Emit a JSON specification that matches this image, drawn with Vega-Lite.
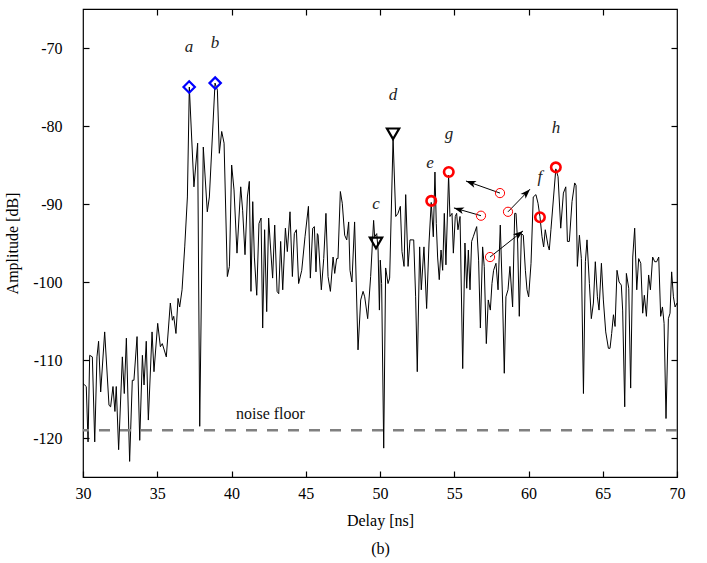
{
  "$schema": "https://vega.github.io/schema/vega-lite/v6.json",
  "width": 594,
  "height": 468,
  "autosize": {"type": "none"},
  "padding": {"left": 83, "top": 9, "right": 30, "bottom": 86},
  "config": {
    "view": {"stroke": "black", "strokeWidth": 1.2},
    "axis": {"labelFlush": false, "labelFont": "'Liberation Serif', 'Times New Roman', Times, serif", "labelFontSize": 16, "labelColor": "black", "titleFont": "'Liberation Serif', 'Times New Roman', Times, serif", "titleFontSize": 16, "titleFontWeight": "normal", "titleColor": "black"}
  },
  "datasets": {
    "trace": [
      {"delay":30.00,"amp":-113.0},{"delay":30.11,"amp":-113.2},{"delay":30.22,"amp":-113.4},{"delay":30.34,"amp":-120.5},{"delay":30.45,"amp":-109.4},{"delay":30.63,"amp":-109.6},{"delay":30.79,"amp":-120.5},{"delay":30.94,"amp":-109.6},{"delay":31.05,"amp":-107.6},{"delay":31.19,"amp":-114.1},{"delay":31.46,"amp":-106.4},{"delay":31.75,"amp":-115.8},{"delay":31.86,"amp":-116.0},{"delay":32.02,"amp":-113.4},{"delay":32.15,"amp":-116.6},{"delay":32.24,"amp":-113.4},{"delay":32.40,"amp":-121.5},{"delay":32.65,"amp":-109.6},{"delay":32.78,"amp":-114.3},{"delay":32.92,"amp":-107.2},{"delay":33.14,"amp":-123.0},{"delay":33.32,"amp":-112.6},{"delay":33.43,"amp":-112.6},{"delay":33.64,"amp":-107.0},{"delay":33.82,"amp":-120.3},{"delay":34.00,"amp":-109.4},{"delay":34.11,"amp":-113.2},{"delay":34.26,"amp":-107.6},{"delay":34.40,"amp":-117.7},{"delay":34.65,"amp":-106.4},{"delay":34.78,"amp":-111.5},{"delay":35.03,"amp":-105.3},{"delay":35.21,"amp":-108.3},{"delay":35.34,"amp":-107.9},{"delay":35.61,"amp":-109.6},{"delay":35.88,"amp":-102.7},{"delay":36.02,"amp":-104.9},{"delay":36.11,"amp":-104.4},{"delay":36.26,"amp":-106.6},{"delay":36.40,"amp":-102.1},{"delay":36.51,"amp":-103.2},{"delay":36.67,"amp":-101.0},{"delay":36.85,"amp":-95.5},{"delay":37.03,"amp":-89.1},{"delay":37.16,"amp":-75.0},{"delay":37.47,"amp":-87.8},{"delay":37.72,"amp":-82.2},{"delay":37.86,"amp":-118.5},{"delay":38.10,"amp":-82.7},{"delay":38.37,"amp":-91.0},{"delay":38.51,"amp":-89.1},{"delay":38.89,"amp":-74.5},{"delay":39.05,"amp":-75.4},{"delay":39.18,"amp":-83.5},{"delay":39.34,"amp":-80.7},{"delay":39.50,"amp":-82.2},{"delay":39.72,"amp":-99.3},{"delay":39.86,"amp":-98.0},{"delay":40.01,"amp":-85.0},{"delay":40.17,"amp":-88.2},{"delay":40.37,"amp":-96.3},{"delay":40.62,"amp":-87.8},{"delay":40.75,"amp":-90.8},{"delay":40.91,"amp":-96.5},{"delay":41.07,"amp":-89.1},{"delay":41.20,"amp":-87.1},{"delay":41.31,"amp":-101.2},{"delay":41.43,"amp":-89.7},{"delay":41.54,"amp":-96.8},{"delay":41.70,"amp":-101.7},{"delay":41.85,"amp":-92.5},{"delay":41.99,"amp":-91.8},{"delay":42.10,"amp":-105.9},{"delay":42.23,"amp":-93.3},{"delay":42.37,"amp":-103.8},{"delay":42.50,"amp":-91.8},{"delay":42.64,"amp":-95.9},{"delay":42.77,"amp":-99.5},{"delay":42.91,"amp":-92.7},{"delay":43.07,"amp":-101.2},{"delay":43.18,"amp":-101.5},{"delay":43.31,"amp":-94.8},{"delay":43.45,"amp":-101.0},{"delay":43.63,"amp":-93.1},{"delay":43.76,"amp":-96.1},{"delay":43.94,"amp":-91.0},{"delay":44.10,"amp":-99.3},{"delay":44.23,"amp":-93.8},{"delay":44.37,"amp":-93.3},{"delay":44.52,"amp":-100.2},{"delay":44.73,"amp":-98.5},{"delay":44.95,"amp":-94.2},{"delay":45.18,"amp":-90.3},{"delay":45.31,"amp":-99.5},{"delay":45.47,"amp":-93.1},{"delay":45.58,"amp":-92.9},{"delay":45.69,"amp":-98.7},{"delay":45.78,"amp":-93.8},{"delay":45.83,"amp":-94.0},{"delay":46.05,"amp":-101.0},{"delay":46.21,"amp":-97.0},{"delay":46.36,"amp":-91.2},{"delay":46.50,"amp":-99.3},{"delay":46.66,"amp":-101.2},{"delay":46.84,"amp":-96.8},{"delay":46.95,"amp":-98.9},{"delay":47.08,"amp":-97.0},{"delay":47.17,"amp":-97.0},{"delay":47.33,"amp":-88.4},{"delay":47.46,"amp":-89.9},{"delay":47.62,"amp":-94.0},{"delay":47.76,"amp":-94.6},{"delay":47.89,"amp":-92.3},{"delay":47.98,"amp":-98.5},{"delay":48.11,"amp":-100.0},{"delay":48.29,"amp":-92.3},{"delay":48.52,"amp":-108.7},{"delay":48.70,"amp":-102.3},{"delay":48.86,"amp":-101.2},{"delay":48.97,"amp":-101.9},{"delay":49.17,"amp":-104.7},{"delay":49.37,"amp":-99.3},{"delay":49.57,"amp":-92.1},{"delay":49.64,"amp":-94.2},{"delay":49.78,"amp":-93.8},{"delay":49.87,"amp":-95.9},{"delay":49.96,"amp":-103.6},{"delay":50.02,"amp":-97.2},{"delay":50.11,"amp":-100.2},{"delay":50.25,"amp":-121.3},{"delay":50.38,"amp":-98.2},{"delay":50.54,"amp":-100.2},{"delay":50.65,"amp":-99.5},{"delay":50.88,"amp":-81.6},{"delay":51.06,"amp":-91.6},{"delay":51.21,"amp":-91.2},{"delay":51.37,"amp":-90.3},{"delay":51.48,"amp":-96.1},{"delay":51.62,"amp":-98.0},{"delay":51.73,"amp":-88.8},{"delay":51.89,"amp":-98.0},{"delay":52.02,"amp":-94.6},{"delay":52.16,"amp":-94.6},{"delay":52.27,"amp":-94.6},{"delay":52.40,"amp":-101.9},{"delay":52.51,"amp":-111.5},{"delay":52.67,"amp":-95.5},{"delay":52.78,"amp":-101.0},{"delay":52.96,"amp":-95.5},{"delay":53.14,"amp":-103.4},{"delay":53.30,"amp":-95.0},{"delay":53.45,"amp":-89.8},{"delay":53.59,"amp":-94.2},{"delay":53.70,"amp":-85.9},{"delay":53.79,"amp":-92.5},{"delay":53.88,"amp":-96.8},{"delay":53.99,"amp":-99.7},{"delay":54.11,"amp":-95.9},{"delay":54.22,"amp":-98.5},{"delay":54.33,"amp":-91.2},{"delay":54.44,"amp":-97.8},{"delay":54.62,"amp":-86.3},{"delay":54.71,"amp":-91.6},{"delay":54.85,"amp":-91.2},{"delay":54.94,"amp":-96.3},{"delay":55.07,"amp":-91.6},{"delay":55.16,"amp":-91.2},{"delay":55.25,"amp":-93.3},{"delay":55.39,"amp":-91.6},{"delay":55.57,"amp":-111.1},{"delay":55.72,"amp":-95.0},{"delay":55.84,"amp":-100.8},{"delay":55.95,"amp":-95.9},{"delay":56.06,"amp":-101.0},{"delay":56.17,"amp":-94.8},{"delay":56.28,"amp":-94.2},{"delay":56.51,"amp":-92.9},{"delay":56.64,"amp":-97.2},{"delay":56.76,"amp":-105.9},{"delay":56.91,"amp":-95.5},{"delay":57.02,"amp":-98.0},{"delay":57.16,"amp":-107.9},{"delay":57.29,"amp":-102.3},{"delay":57.43,"amp":-103.6},{"delay":57.54,"amp":-100.2},{"delay":57.65,"amp":-98.5},{"delay":57.81,"amp":-97.6},{"delay":57.95,"amp":-101.0},{"delay":58.10,"amp":-92.7},{"delay":58.26,"amp":-102.7},{"delay":58.37,"amp":-111.7},{"delay":58.48,"amp":-101.9},{"delay":58.62,"amp":-101.0},{"delay":58.75,"amp":-98.0},{"delay":58.93,"amp":-103.2},{"delay":59.07,"amp":-91.2},{"delay":59.16,"amp":-91.2},{"delay":59.27,"amp":-95.0},{"delay":59.38,"amp":-104.4},{"delay":59.52,"amp":-93.8},{"delay":59.65,"amp":-94.0},{"delay":59.79,"amp":-98.5},{"delay":59.90,"amp":-101.0},{"delay":60.01,"amp":-101.9},{"delay":60.17,"amp":-97.6},{"delay":60.32,"amp":-89.1},{"delay":60.50,"amp":-88.8},{"delay":60.64,"amp":-89.9},{"delay":60.77,"amp":-91.6},{"delay":60.91,"amp":-94.2},{"delay":61.02,"amp":-95.5},{"delay":61.13,"amp":-93.3},{"delay":61.31,"amp":-95.3},{"delay":61.40,"amp":-95.9},{"delay":61.51,"amp":-93.3},{"delay":61.84,"amp":-85.5},{"delay":61.99,"amp":-86.5},{"delay":62.17,"amp":-93.1},{"delay":62.35,"amp":-88.6},{"delay":62.51,"amp":-87.8},{"delay":62.62,"amp":-94.8},{"delay":62.75,"amp":-94.8},{"delay":62.93,"amp":-89.7},{"delay":63.11,"amp":-87.3},{"delay":63.20,"amp":-87.6},{"delay":63.29,"amp":-98.0},{"delay":63.43,"amp":-94.0},{"delay":63.56,"amp":-97.0},{"delay":63.70,"amp":-114.3},{"delay":63.83,"amp":-97.4},{"delay":63.94,"amp":-94.6},{"delay":64.10,"amp":-100.2},{"delay":64.23,"amp":-104.7},{"delay":64.37,"amp":-102.7},{"delay":64.50,"amp":-97.4},{"delay":64.64,"amp":-101.9},{"delay":64.75,"amp":-103.6},{"delay":64.91,"amp":-97.6},{"delay":65.04,"amp":-102.3},{"delay":65.20,"amp":-106.4},{"delay":65.38,"amp":-108.5},{"delay":65.49,"amp":-108.5},{"delay":65.60,"amp":-106.6},{"delay":65.72,"amp":-104.2},{"delay":65.83,"amp":-105.7},{"delay":65.96,"amp":-98.5},{"delay":66.10,"amp":-100.0},{"delay":66.25,"amp":-100.4},{"delay":66.34,"amp":-103.6},{"delay":66.48,"amp":-116.0},{"delay":66.59,"amp":-98.9},{"delay":66.75,"amp":-100.8},{"delay":66.88,"amp":-113.6},{"delay":67.02,"amp":-96.8},{"delay":67.15,"amp":-93.1},{"delay":67.29,"amp":-101.0},{"delay":67.42,"amp":-97.0},{"delay":67.56,"amp":-97.6},{"delay":67.69,"amp":-104.0},{"delay":67.80,"amp":-101.7},{"delay":67.94,"amp":-104.4},{"delay":68.09,"amp":-99.1},{"delay":68.21,"amp":-101.0},{"delay":68.36,"amp":-96.8},{"delay":68.50,"amp":-97.4},{"delay":68.63,"amp":-97.4},{"delay":68.77,"amp":-96.8},{"delay":68.90,"amp":-104.4},{"delay":69.02,"amp":-103.2},{"delay":69.13,"amp":-105.3},{"delay":69.26,"amp":-117.5},{"delay":69.42,"amp":-104.7},{"delay":69.53,"amp":-104.0},{"delay":69.64,"amp":-98.7},{"delay":69.76,"amp":-101.9},{"delay":69.87,"amp":-103.2},{"delay":70.00,"amp":-102.7}
    ],
    "noise": [{"amp": -119, "delay": 40.3, "label": "noise floor", "labelAmp": -116.9}],
    "diamonds": [{"delay": 37.15, "amp": -75.0}, {"delay": 38.9, "amp": -74.5}],
    "triangles": [{"delay": 49.73, "amp": -95.0}, {"delay": 50.88, "amp": -81.0}],
    "circles": [{"delay": 53.45, "amp": -89.6}, {"delay": 54.63, "amp": -85.9}, {"delay": 60.77, "amp": -91.7}, {"delay": 61.84, "amp": -85.3}],
    "sources": [{"delay": 58.08, "amp": -88.6}, {"delay": 56.80, "amp": -91.5}, {"delay": 58.62, "amp": -91.0}, {"delay": 57.41, "amp": -96.8}],
    "arrows": [
      {"id": 1, "x1": 58.08, "y1": -88.6, "x2": 55.79, "y2": -87.05},
      {"id": 2, "x1": 56.80, "y1": -91.5, "x2": 54.98, "y2": -90.5},
      {"id": 3, "x1": 58.62, "y1": -91.0, "x2": 60.10, "y2": -88.1},
      {"id": 4, "x1": 57.41, "y1": -96.8, "x2": 59.63, "y2": -93.45}
    ],
    "labels": [
      {"t": "a", "delay": 37.14, "amp": -69.9},
      {"t": "b", "delay": 38.89, "amp": -69.4},
      {"t": "c", "delay": 49.73, "amp": -90.0},
      {"t": "d", "delay": 50.88, "amp": -76.0},
      {"t": "e", "delay": 53.37, "amp": -84.7},
      {"t": "f", "delay": 60.77, "amp": -86.5},
      {"t": "g", "delay": 54.65, "amp": -81.0},
      {"t": "h", "delay": 61.85, "amp": -80.3}
    ]
  },
  "resolve": {"axis": {"x": "independent", "y": "independent"}},
  "layer": [
    {
      "data": {"name": "trace"},
      "mark": {"type": "line", "color": "black", "strokeWidth": 1, "interpolate": "linear"},
      "encoding": {
        "x": {"field": "delay", "type": "quantitative", "scale": {"domain": [30, 70], "nice": false, "zero": false},
              "axis": {"orient": "bottom", "values": [30, 35, 40, 45, 50, 55, 60, 65, 70], "grid": false, "domainOpacity": 0, "tickSize": -6, "tickColor": "black", "tickWidth": 1.2, "labelPadding": 14, "title": ["Delay [ns]", "(b)"], "titleLineHeight": 28, "titleX": 297, "titleY": 35, "titleBaseline": "top"}},
        "y": {"field": "amp", "type": "quantitative", "scale": {"domain": [-125, -65], "nice": false, "zero": false},
              "axis": {"orient": "left", "values": [-120, -110, -100, -90, -80, -70], "grid": false, "domainOpacity": 0, "tickSize": -6, "tickColor": "black", "tickWidth": 1.2, "labelExpr": "'' + datum.value", "labelPadding": 27, "title": "Amplitude [dB]", "titleX": -71, "titleY": 234, "titleBaseline": "middle", "titleAngle": -90}}
      }
    },
    {
      "data": {"name": "noise"},
      "mark": {"type": "rule", "color": "#808080", "strokeWidth": 2.5, "strokeDash": [11, 10]},
      "encoding": {
        "y": {"field": "amp", "type": "quantitative", "axis": null}
      }
    },
    {
      "data": {"name": "noise"},
      "mark": {"type": "text", "font": "'Liberation Serif', 'Times New Roman', Times, serif", "fontSize": 16, "align": "left", "baseline": "middle", "color": "#111"},
      "encoding": {
        "x": {"field": "delay", "type": "quantitative", "axis": null},
        "y": {"field": "labelAmp", "type": "quantitative", "axis": null},
        "text": {"field": "label"}
      }
    },
    {
      "data": {"name": "arrows"},
      "mark": {"type": "rule", "color": "black", "strokeWidth": 1},
      "encoding": {
        "x": {"field": "x1", "type": "quantitative", "axis": null},
        "y": {"field": "y1", "type": "quantitative", "axis": null},
        "x2": {"field": "x2"},
        "y2": {"field": "y2"}
      }
    },
    {
      "data": {"name": "arrows"},
      "transform": [{"filter": "datum.id == 1"}],
      "mark": {"type": "point", "shape": "M0,0L-0.7,2L0,1.5L0.7,2Z", "filled": true, "color": "black", "size": 100, "angle": 289.5, "opacity": 1},
      "encoding": {"x": {"field": "x2", "type": "quantitative", "axis": null}, "y": {"field": "y2", "type": "quantitative", "axis": null}}
    },
    {
      "data": {"name": "arrows"},
      "transform": [{"filter": "datum.id == 2"}],
      "mark": {"type": "point", "shape": "M0,0L-0.7,2L0,1.5L0.7,2Z", "filled": true, "color": "black", "size": 100, "angle": 286.5, "opacity": 1},
      "encoding": {"x": {"field": "x2", "type": "quantitative", "axis": null}, "y": {"field": "y2", "type": "quantitative", "axis": null}}
    },
    {
      "data": {"name": "arrows"},
      "transform": [{"filter": "datum.id == 3"}],
      "mark": {"type": "point", "shape": "M0,0L-0.7,2L0,1.5L0.7,2Z", "filled": true, "color": "black", "size": 100, "angle": 43.7, "opacity": 1},
      "encoding": {"x": {"field": "x2", "type": "quantitative", "axis": null}, "y": {"field": "y2", "type": "quantitative", "axis": null}}
    },
    {
      "data": {"name": "arrows"},
      "transform": [{"filter": "datum.id == 4"}],
      "mark": {"type": "point", "shape": "M0,0L-0.7,2L0,1.5L0.7,2Z", "filled": true, "color": "black", "size": 100, "angle": 51.8, "opacity": 1},
      "encoding": {"x": {"field": "x2", "type": "quantitative", "axis": null}, "y": {"field": "y2", "type": "quantitative", "axis": null}}
    },
    {
      "data": {"name": "sources"},
      "mark": {"type": "point", "shape": "circle", "filled": false, "color": "#ff0000", "strokeWidth": 1, "size": 85, "opacity": 1},
      "encoding": {"x": {"field": "delay", "type": "quantitative", "axis": null}, "y": {"field": "amp", "type": "quantitative", "axis": null}}
    },
    {
      "data": {"name": "circles"},
      "mark": {"type": "point", "shape": "circle", "filled": false, "color": "#ff0000", "strokeWidth": 2.6, "size": 90, "opacity": 1},
      "encoding": {"x": {"field": "delay", "type": "quantitative", "axis": null}, "y": {"field": "amp", "type": "quantitative", "axis": null}}
    },
    {
      "data": {"name": "diamonds"},
      "mark": {"type": "point", "shape": "diamond", "filled": false, "color": "#0000ff", "strokeWidth": 2.2, "size": 130, "opacity": 1},
      "encoding": {"x": {"field": "delay", "type": "quantitative", "axis": null}, "y": {"field": "amp", "type": "quantitative", "axis": null}}
    },
    {
      "data": {"name": "triangles"},
      "mark": {"type": "point", "shape": "triangle-down", "filled": false, "color": "black", "strokeWidth": 2.2, "size": 150, "opacity": 1},
      "encoding": {"x": {"field": "delay", "type": "quantitative", "axis": null}, "y": {"field": "amp", "type": "quantitative", "axis": null}}
    },
    {
      "data": {"name": "labels"},
      "mark": {"type": "text", "font": "'Liberation Serif', 'Times New Roman', Times, serif", "fontStyle": "italic", "fontSize": 17, "align": "center", "baseline": "middle", "color": "#222"},
      "encoding": {
        "x": {"field": "delay", "type": "quantitative", "axis": {"orient": "top", "grid": false, "domainOpacity": 0, "tickColor": "black", "tickWidth": 1.2, "tickSize": -6, "values": [35, 40, 45, 50, 55, 60, 65], "labels": false, "title": null}},
        "y": {"field": "amp", "type": "quantitative", "axis": {"orient": "right", "grid": false, "domainOpacity": 0, "tickColor": "black", "tickWidth": 1.2, "tickSize": -6, "values": [-120, -110, -100, -90, -80, -70], "labels": false, "title": null}},
        "text": {"field": "t"}
      }
    }
  ]
}
